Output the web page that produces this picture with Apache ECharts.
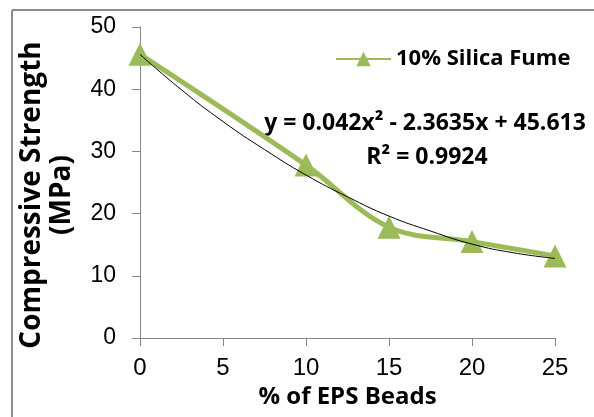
<!DOCTYPE html>
<html><head><meta charset="utf-8">
<script src="https://cdn.jsdelivr.net/npm/echarts@6/dist/echarts.min.js"></script>
<style>html,body{margin:0;padding:0;background:#fff}#c{width:594px;height:417px}</style>
</head><body><div id="c"></div>
<script>
var xValues = [0, 10, 15, 20, 25];
var strength = [45.6, 27.8, 17.8, 15.5, 13.2];
var trendX = [0, 2.5, 5, 7.5, 10, 12.5, 15, 17.5, 20, 22.5, 25];
var trendY = [45.6, 39.9, 34.8, 30.3, 26.2, 22.7, 19.6, 17.2, 15.1, 13.7, 12.8];
var xTicks = [0, 5, 10, 15, 20, 25];
var yTicks = [0, 10, 20, 30, 40, 50];
var seriesName = '10% Silica Fume';
var yTitle = 'Compressive Strength\n(MPa)';
var equation = 'y = 0.042x\u00B2 - 2.3635x + 45.613';
var rSquared = 'R\u00B2 = 0.9924';

var chart = echarts.init(document.getElementById('c'));
var green = '#9BBB59';
chart.setOption({
  animation: false,
  grid: {left: 140, right: 39, top: 27, bottom: 79},
  legend: {
    left: 330, top: 43, itemWidth: 55, itemHeight: 18, itemGap: 4,
    data: [{name: seriesName}],
    textStyle: {fontFamily: 'Open Sans', fontWeight: 'bold', fontSize: 22, color: '#000'}
  },
  xAxis: {
    type: 'value', min: xTicks[0], max: xTicks[xTicks.length - 1], interval: 5,
    name: '% of EPS Beads', nameLocation: 'middle', nameGap: 45,
    nameTextStyle: {fontFamily: 'Open Sans', fontWeight: 'bold', fontSize: 24, color: '#000'},
    axisLine: {lineStyle: {color: '#868686', width: 1}},
    axisTick: {inside: false, length: 8, lineStyle: {color: '#868686'}},
    splitLine: {show: false},
    axisLabel: {margin: 18, fontFamily: 'Liberation Sans', fontSize: 24, color: '#000'}
  },
  yAxis: {
    type: 'value', min: yTicks[0], max: yTicks[yTicks.length - 1], interval: 10,
    axisLine: {show: true, lineStyle: {color: '#868686', width: 1}},
    axisTick: {show: true, inside: false, length: 8, lineStyle: {color: '#868686'}},
    splitLine: {show: false},
    axisLabel: {margin: 24, fontFamily: 'Liberation Sans', fontSize: 23, color: '#000'}
  },
  series: [
    {
      name: seriesName, type: 'line', smooth: 0.35,
      data: xValues.map(function (x, i) { return [x, strength[i]]; }),
      symbol: 'triangle', symbolSize: 23,
      lineStyle: {color: green, width: 5},
      itemStyle: {color: green},
      z: 2
    },
    {
      name: 'trend', type: 'line', smooth: true, symbol: 'none',
      data: trendX.map(function (x, i) { return [x, trendY[i]]; }),
      lineStyle: {color: '#000', width: 1},
      z: 3, silent: true
    }
  ],
  graphic: [
    {type: 'line', shape: {x1: 12, y1: 10, x2: 12, y2: 417}, style: {stroke: '#8c8c8c', lineWidth: 2}},
    {type: 'line', shape: {x1: 12, y1: 10, x2: 594, y2: 10}, style: {stroke: '#8c8c8c', lineWidth: 2}},
    {type: 'text', x: 47, y: 195, rotation: Math.PI / 2,
     style: {text: yTitle, align: 'center', verticalAlign: 'middle', lineHeight: 30, fontFamily: 'Open Sans', fontWeight: 'bold', fontSize: 28, fill: '#000'}},
    {type: 'text', x: 425, y: 123, style: {text: equation, align: 'center', verticalAlign: 'middle', fontFamily: 'Open Sans', fontWeight: 'bold', fontSize: 23, fill: '#000'}},
    {type: 'text', x: 427, y: 157, style: {text: rSquared, align: 'center', verticalAlign: 'middle', fontFamily: 'Open Sans', fontWeight: 'bold', fontSize: 23, fill: '#000'}}
  ]
});
</script></body></html>
